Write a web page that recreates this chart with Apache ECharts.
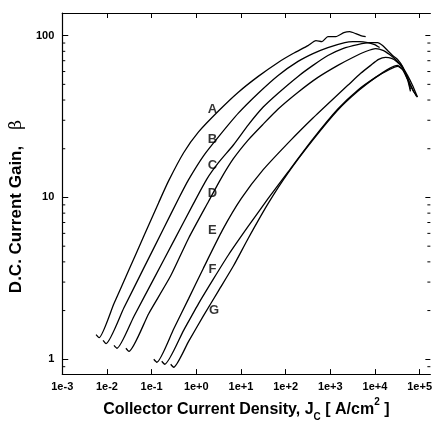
<!DOCTYPE html>
<html>
<head>
<meta charset="utf-8">
<script src="https://cdn.jsdelivr.net/npm/echarts@6/dist/echarts.min.js"></script>
<style>
  html, body { margin: 0; padding: 0; background: #fff; }
  #chart { width: 435px; height: 427px; }
</style>
</head>
<body>
<div id="chart"></div>
<script>
// curves: J in A/cm2, beta
var aJ = [0.00572, 0.00667, 0.0144, 0.0311, 0.0671, 0.1447, 0.2416, 0.5215, 1.125, 3.139, 8.753, 24.41, 68.08, 146.9, 317, 477.9, 650, 884, 1333, 2009, 2733, 3718, 4803, 6208];
var aB = [1.42, 1.36, 2.21, 3.57, 5.77, 9.32, 12.7, 18.9, 25.4, 34.2, 44.7, 56.0, 68.3, 77.5, 86.8, 93.2, 91.9, 98.6, 98.6, 104.3, 105.8, 102.9, 100, 98.6];

var bJ = [0.00819, 0.00955, 0.02404, 0.0671, 0.1869, 0.4034, 0.674, 1.454, 3.139, 8.753, 24.41, 68.08, 189.8, 409.8, 884, 2115, 3187, 4562, 6878, 9847, 12725];
var bB = [1.31, 1.25, 2.08, 3.67, 6.45, 9.86, 12.9, 18.1, 23.7, 33.2, 44.1, 56.8, 69.3, 77.5, 84.4, 90.6, 91.9, 91.9, 90.6, 88.1, 84.4];

var cJ = [0.01439, 0.01679, 0.0401, 0.1119, 0.3122, 0.8708, 1.696, 3.139, 6.773, 14.62, 31.54, 68.08, 189.8, 409.8, 884, 1908, 4119, 7621, 11483, 14843, 19184, 24790, 32030, 41390, 53500, 62400];
var cB = [1.22, 1.17, 1.84, 3.14, 5.37, 9.19, 12.9, 16.4, 21.1, 28.1, 36.2, 44.1, 56.0, 65.5, 75.4, 83.2, 88.1, 90.6, 90.6, 86.8, 80.9, 75.4, 71.3, 64.5, 53.7, 45.3];

var dJ = [0.0266, 0.0311, 0.0866, 0.2677, 0.674, 1.879, 3.477, 6.773, 14.62, 31.54, 68.08, 189.8, 529.5, 1477, 3187, 6208, 10365, 15624, 21257, 28910, 39320, 53500, 69100, 89340];
var dB = [1.17, 1.12, 1.92, 3.28, 5.60, 9.45, 12.9, 17.35, 22.7, 28.4, 35.2, 44.7, 55.2, 65.5, 73.3, 79.8, 83.2, 80.9, 76.4, 71.3, 65.5, 56.8, 49.3, 41.7];

var eJ = [0.1119, 0.1305, 0.3122, 0.674, 1.454, 3.853, 10.21, 31.54, 132.6, 409.8, 1143, 2466, 4803, 8022, 12090, 17310, 23550, 30430, 39320, 53500, 62400];
var eB = [1.00, 0.959, 1.54, 2.37, 3.67, 6.28, 9.86, 14.85, 22.7, 31.0, 40.5, 49.3, 58.5, 65.5, 71.3, 73.3, 72.3, 69.3, 64.5, 55.2, 46.6];

var fJ = [0.1687, 0.1968, 0.5215, 1.125, 2.428, 5.242, 14.62, 40.76, 113.7, 409.8, 1477, 4119, 10365, 21257, 32030, 43570, 56300, 72770, 89340];
var fB = [0.972, 0.932, 1.51, 2.21, 3.14, 4.41, 6.64, 9.86, 14.4, 23.0, 35.2, 46.0, 55.2, 61.8, 64.5, 61.0, 53.0, 45.3, 41.7];

var gJ = [0.2677, 0.3122, 0.674, 1.454, 3.139, 6.773, 14.62, 40.76, 113.7, 409.8, 1477, 4119, 10365, 21257, 32030, 41390, 53500, 69100, 84860];
var gB = [0.932, 0.893, 1.29, 1.86, 2.65, 3.77, 5.60, 9.19, 14.2, 22.7, 34.7, 45.3, 55.2, 62.8, 65.5, 61.8, 53.7, 46.6, 42.3];

var curveNames = ['A', 'B', 'C', 'D', 'E', 'F', 'G'];
var labelJ = [2.3, 2.3, 2.3, 2.3, 2.3, 2.3, 2.5];
var labelB = [35.2, 23.0, 15.7, 10.6, 6.28, 3.57, 2.0];

var xTicks = [0.001, 0.01, 0.1, 1, 10, 100, 1000, 10000, 100000];
var yTicks = [1, 10, 100];
var yMinor = [0.9, 2, 3, 4, 5, 6, 7, 8, 9, 20, 30, 40, 50, 60, 70, 80, 90];

var xMin = 0.001, xMax = 174000;
var yMin = 0.81, yMax = 138;

var curves = [[aJ, aB], [bJ, bB], [cJ, cB], [dJ, dB], [eJ, eB], [fJ, fB], [gJ, gB]];

function pairs(xs, ys) {
  return xs.map(function (x, i) { return [x, ys[i]]; });
}

var chart = echarts.init(document.getElementById('chart'));
var font = 'Liberation Sans, Arial, sans-serif';

var series = curves.map(function (c, i) {
  return {
    name: curveNames[i],
    type: 'line',
    data: pairs(c[0], c[1]),
    showSymbol: false,
    smooth: 0.2,
    lineStyle: { color: '#000', width: 1.3 },
    silent: true,
    z: 3
  };
});

series.push({
  type: 'scatter',
  symbolSize: 0,
  data: curveNames.map(function (n, i) { return { name: n, value: [labelJ[i], labelB[i]] }; }),
  label: {
    show: true, position: 'inside', formatter: '{b}',
    color: '#000', textBorderWidth: 0, fontFamily: font, fontWeight: 'bold', fontSize: 13
  },
  silent: true,
  z: 5
});

// short minor ticks on both sides of the plot
series.push({
  type: 'custom',
  data: yMinor.map(function (v) { return [v]; }),
  renderItem: function (params, api) {
    var v = api.value(0);
    var l = api.coord([xMin, v]);
    var r = api.coord([xMax, v]);
    return {
      type: 'group',
      children: [
        { type: 'line', shape: { x1: l[0], y1: l[1], x2: l[0] + 3, y2: l[1] }, style: { stroke: '#000', lineWidth: 1 } },
        { type: 'line', shape: { x1: r[0] - 3, y1: r[1], x2: r[0], y2: r[1] }, style: { stroke: '#000', lineWidth: 1 } }
      ]
    };
  },
  silent: true,
  z: 4
});

var option = {
  animation: false,
  grid: { left: 62, right: 2, top: 13, bottom: 50 },
  xAxis: [
    {
      type: 'log', min: xMin, max: xMax, position: 'bottom',
      axisLine: { show: true, lineStyle: { color: '#000', width: 1.2 } },
      axisTick: { inside: true, length: 5, customValues: xTicks, lineStyle: { color: '#000' } },
      axisLabel: {
        customValues: xTicks, margin: 7,
        color: '#000', fontFamily: font, fontWeight: 'bold', fontSize: 11,
        formatter: function (v) {
          var e = Math.round(Math.log10(v));
          return '1e' + (e < 0 ? '-' : '+') + Math.abs(e);
        }
      },
      splitLine: { show: false },
      name: '{b|Collector Current Density, J}{sub|C}{b| [ A/cm}{sup|2}{b| ]}',
      nameLocation: 'middle', nameGap: 20,
      nameTextStyle: {
        rich: {
          b: { fontFamily: font, fontWeight: 'bold', fontSize: 16, color: '#000', lineHeight: 25 },
          sub: { fontFamily: font, fontWeight: 'bold', fontSize: 10, color: '#000', verticalAlign: 'bottom', lineHeight: 13 },
          sup: { fontFamily: font, fontWeight: 'bold', fontSize: 10, color: '#000', verticalAlign: 'top', lineHeight: 13 }
        }
      }
    },
    {
      type: 'log', min: xMin, max: xMax, position: 'top',
      axisLine: { show: true, lineStyle: { color: '#000', width: 1.2 } },
      axisTick: { inside: true, length: 5, customValues: xTicks, lineStyle: { color: '#000' } },
      axisLabel: { show: false },
      splitLine: { show: false }
    }
  ],
  yAxis: [
    {
      type: 'log', min: yMin, max: yMax, position: 'left',
      axisLine: { show: true, lineStyle: { color: '#000', width: 1.2 } },
      axisTick: { inside: true, length: 6, customValues: yTicks, lineStyle: { color: '#000' } },
      axisLabel: {
        customValues: yTicks, margin: 8,
        color: '#000', fontFamily: font, fontWeight: 'bold', fontSize: 11
      },
      splitLine: { show: false },
      name: '{t|D.C. Current Gain,}{g|β}',
      nameLocation: 'middle', nameGap: 36,
      nameTextStyle: {
        rich: {
          t: { fontFamily: font, fontWeight: 'bold', fontSize: 17, color: '#000' },
          g: { fontFamily: 'DejaVu Serif, serif', fontSize: 17, color: '#000', padding: [0, 26, 0, 16] }
        }
      }
    },
    {
      type: 'log', min: yMin, max: yMax, position: 'right',
      axisLine: { show: false },
      axisTick: { inside: true, length: 5, customValues: yTicks, lineStyle: { color: '#000' } },
      axisLabel: { show: false },
      splitLine: { show: false }
    }
  ],
  series: series
};

chart.setOption(option);
</script>
</body>
</html>
